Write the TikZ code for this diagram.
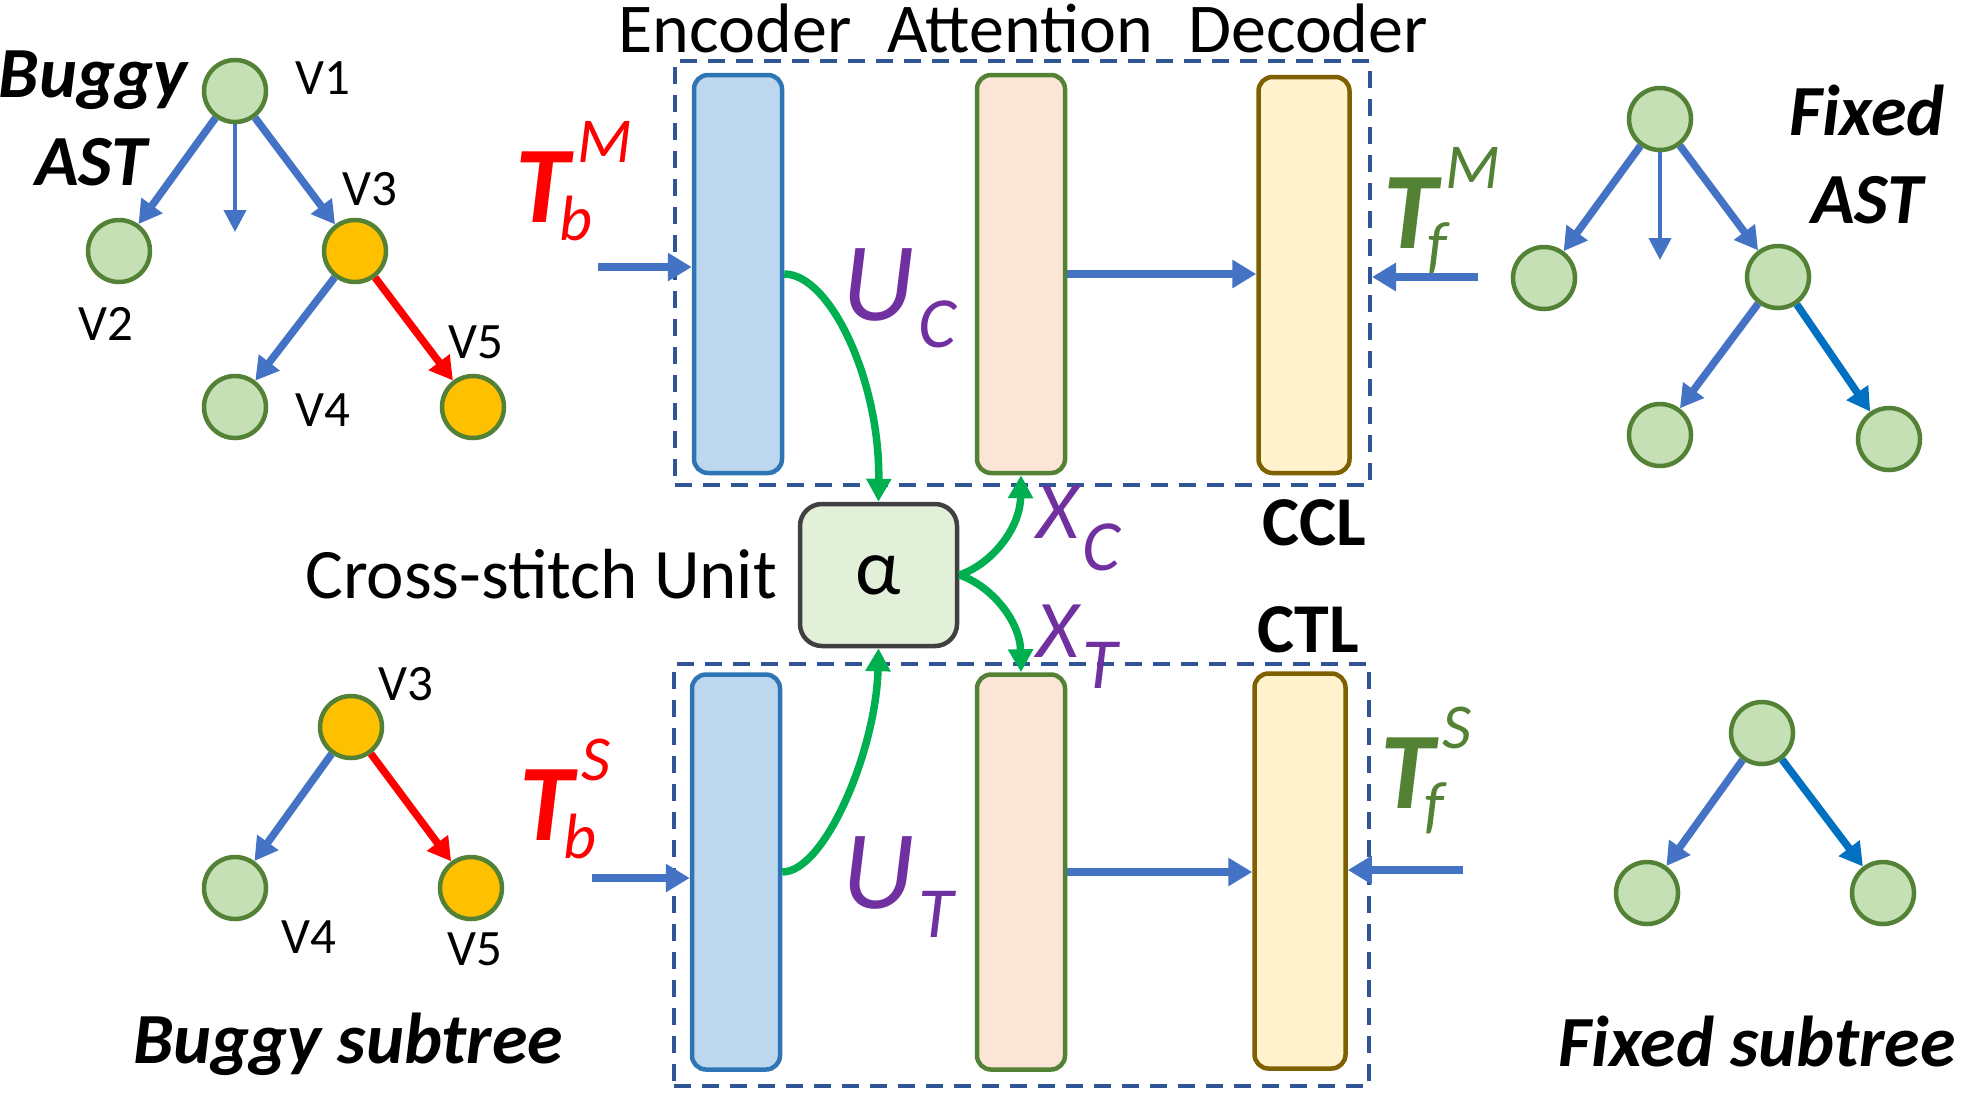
\documentclass[tikz,border=0pt]{standalone}
\usepackage{fontspec}
\setmainfont{Carlito}
\usepackage{xcolor}
\usetikzlibrary{arrows.meta,positioning,calc}
\definecolor{treeblue}{HTML}{4472C4}
\definecolor{deepblue}{HTML}{0070C0}
\definecolor{leafgreen}{HTML}{C5E0B4}
\definecolor{rimgreen}{HTML}{538135}
\definecolor{bugorange}{HTML}{FFC000}
\definecolor{labpurple}{HTML}{7030A0}
\definecolor{labgreen}{HTML}{548235}
\definecolor{linkgreen}{HTML}{00B050}
\definecolor{encfill}{HTML}{BDD7EE}
\definecolor{encdraw}{HTML}{2E75B6}
\definecolor{attfill}{HTML}{FBE5D6}
\definecolor{decfill}{HTML}{FFF2CC}
\definecolor{decdraw}{HTML}{7F6000}
\definecolor{unitfill}{HTML}{E2F0D9}
\definecolor{unitdraw}{HTML}{404040}
\definecolor{framedash}{HTML}{2F5597}
% script sizes for the tree / feature labels
\newcommand{\supsz}{\fontsize{64}{64}\selectfont}
\newcommand{\subsz}{\fontsize{72}{72}\selectfont}
\newcommand{\treelab}[3]{{\bfseries #1}\rlap{\hspace{-10pt}\raisebox{-18pt}{\supsz #2}}\hspace{8pt}\raisebox{60pt}{\supsz #3}}
\newcommand{\featlab}[3]{#1\hspace{4pt}\raisebox{#3}{\subsz #2}}

\begin{document}
\begin{tikzpicture}[
x=1pt,y=-1pt,
tn/.style={circle,draw=rimgreen,fill=leafgreen,line width=4.5pt,minimum size=62pt,inner sep=0},
bug/.style={tn,fill=bugorange},
vname/.style={font=\fontsize{51}{51}\selectfont,inner sep=0,anchor=base west},
bigname/.style={font=\fontsize{72}{72}\selectfont\bfseries\itshape,inner sep=0,anchor=base},
title/.style={font=\fontsize{70}{70}\selectfont,inner sep=0,anchor=base},
tlab/.style={font=\fontsize{109}{109}\selectfont\itshape,inner sep=0,anchor=base west},
flab/.style={font=\fontsize{112}{112}\selectfont\itshape,text=labpurple,inner sep=0,anchor=base west},
xlab/.style={font=\fontsize{82}{82}\selectfont\itshape,text=labpurple,inner sep=0,anchor=base west},
layer/.style={draw,rounded corners=14pt,line width=4.5pt,minimum width=88pt,inner sep=0},
enc/.style={layer,fill=encfill,draw=encdraw},
att/.style={layer,fill=attfill,draw=labgreen},
dec/.style={layer,fill=decfill,draw=decdraw,minimum width=91pt},
frame/.style={draw=framedash,dash pattern=on 17pt off 11pt,line width=4pt,minimum width=695pt,inner sep=0},
tarr/.style={-{Triangle[length=23pt,width=25pt]},line width=7.5pt,treeblue},
tarrthin/.style={-{Triangle[length=22pt,width=22pt]},line width=4pt,treeblue},
harr/.style={-{Triangle[length=24pt,width=27pt]},line width=8pt,treeblue},
garr/.style={-{Triangle[length=23pt,width=24pt]},line width=7.5pt,linkgreen}
]
\useasboundingbox (0,0) rectangle (1961,1096);
% multi-task encoder/decoder
\node[frame,minimum height=424pt] (frameA) at (1022.5,273) {};
\node[frame,minimum height=422pt] (frameB) at (1021,875) {};
\node[enc,minimum height=398pt] (encA) at (738,274) {};
\node[att,minimum height=398pt] (attA) at (1021,274) {};
\node[dec,minimum height=396pt] (decA) at (1304,275) {};
\node[enc,minimum height=395pt] (encB) at (736,872) {};
\node[att,minimum height=395pt] (attB) at (1021,872) {};
\node[dec,minimum height=395pt] (decB) at (1300,871) {};
\node[title] (tEnc) at (735,52) {Encoder};
\node[title] (tAtt) at (1020,52) {Attention};
\node[title] (tDec) at (1308,52) {Decoder};
\node[draw=unitdraw,fill=unitfill,line width=4.5pt,rounded corners=22pt,minimum width=157pt,minimum height=142pt,font=\fontsize{80}{80}\selectfont] (alpha) at (878.5,575) {\raisebox{-8pt}{α}};
\node[font=\fontsize{71}{71}\selectfont,inner sep=0,anchor=base west] (csu) at (305,598) {Cross-stitch Unit};
\node[font=\fontsize{70}{70}\selectfont\bfseries,inner sep=0,anchor=base west] (ccl) at (1262,545) {CCL};
\node[font=\fontsize{70}{70}\selectfont\bfseries,inner sep=0,anchor=base west] (ctl) at (1257,652) {CTL};
% inputs and outputs
\node[tlab,text=red] (tbm) at (515,222) {\treelab{T}{b}{M}};
\node[tlab,text=red] (tbs) at (519,840) {\treelab{T}{b}{S}};
\node[tlab,text=labgreen] (tfm) at (1383,248) {\treelab{T}{f}{M}};
\node[tlab,text=labgreen] (tfs) at (1380,808) {\treelab{T}{f}{S}};
\node[flab] (uc) at (842,320) {\featlab{U}{C}{-27pt}};
\node[flab] (ut) at (842,908) {\featlab{U}{T}{-29pt}};
\node[xlab] (xc) at (1036,538) {\featlab{X}{C}{-32pt}};
\node[xlab] (xt) at (1036,657) {\featlab{X}{T}{-31pt}};
\coordinate (inA) at (598,267);
\coordinate (inB) at (592,878);
\coordinate (outA) at (1478,277);
\coordinate (outB) at (1463,870);
\draw[harr] (inA) -- (inA -| encA.west);
\draw[harr] (attA.east) -- (attA.east -| decA.west);
\draw[harr] (outA) -- (outA -| frameA.east);
\draw[harr] (inB) -- (inB -| encB.west);
\draw[harr] (attB.east) -- (attB.east -| decB.west);
\draw[harr] (outB) -- (outB -| decB.east);
\draw[garr] (encA.east) .. controls (830,274) and (880,380) .. (alpha.north);
\draw[garr] (encB.east) .. controls (825,872) and (876,750) .. (alpha.south);
\draw[garr] (alpha.east) .. controls (990,565) and (1020,530) .. (attA.south);
\draw[garr] (alpha.east) .. controls (990,585) and (1020,620) .. (attB.north);
% buggy AST
\node[bigname] (bugA) at (93,97) {Buggy};
\node[bigname] (astA) at (91,185) {AST};
\node[tn] (b1) at (235,91) {};
\node[tn] (b2) at (119,251) {};
\node[bug] (b3) at (355,251) {};
\node[tn] (b4) at (235,407) {};
\node[bug] (b5) at (473,407) {};
\coordinate (bmid) at (235,232);
\node[vname] (lb1) at (295,94) {V1};
\node[vname] (lb2) at (78,340) {V2};
\node[vname] (lb3) at (342,205) {V3};
\node[vname] (lb4) at (295,426) {V4};
\node[vname] (lb5) at (448,358) {V5};
\draw[tarr] (b1) -- (b2);
\draw[tarrthin] (b1) -- (bmid);
\draw[tarr] (b1) -- (b3);
\draw[tarr] (b3) -- (b4);
\draw[tarr,red] (b3) -- (b5);
% buggy subtree
\node[bug] (s3) at (351,727) {};
\node[tn] (s4) at (235,888) {};
\node[bug] (s5) at (471,888) {};
\node[vname] (ls3) at (378,700) {V3};
\node[vname] (ls4) at (281,953) {V4};
\node[vname] (ls5) at (447,965) {V5};
\draw[tarr] (s3) -- (s4);
\draw[tarr,red] (s3) -- (s5);
\node[bigname] (bugS) at (348,1063) {Buggy subtree};
% fixed AST
\node[bigname] (fixA) at (1867,135) {Fixed};
\node[bigname] (astF) at (1867,223) {AST};
\node[tn] (f1) at (1660,119) {};
\node[tn] (f2) at (1544,278) {};
\node[tn] (f3) at (1778,277) {};
\node[tn] (f4) at (1660,435) {};
\node[tn] (f5) at (1889,439) {};
\coordinate (fmid) at (1660,260);
\draw[tarr] (f1) -- (f2);
\draw[tarrthin] (f1) -- (fmid);
\draw[tarr] (f1) -- (f3);
\draw[tarr] (f3) -- (f4);
\draw[tarr,deepblue] (f3) -- (f5);
% fixed subtree
\node[tn] (g1) at (1762,733) {};
\node[tn] (g2) at (1647,893) {};
\node[tn] (g3) at (1883,893) {};
\draw[tarr] (g1) -- (g2);
\draw[tarr,deepblue] (g1) -- (g3);
\node[bigname] (fixS) at (1757,1066) {Fixed subtree};
\end{tikzpicture}
\end{document}
